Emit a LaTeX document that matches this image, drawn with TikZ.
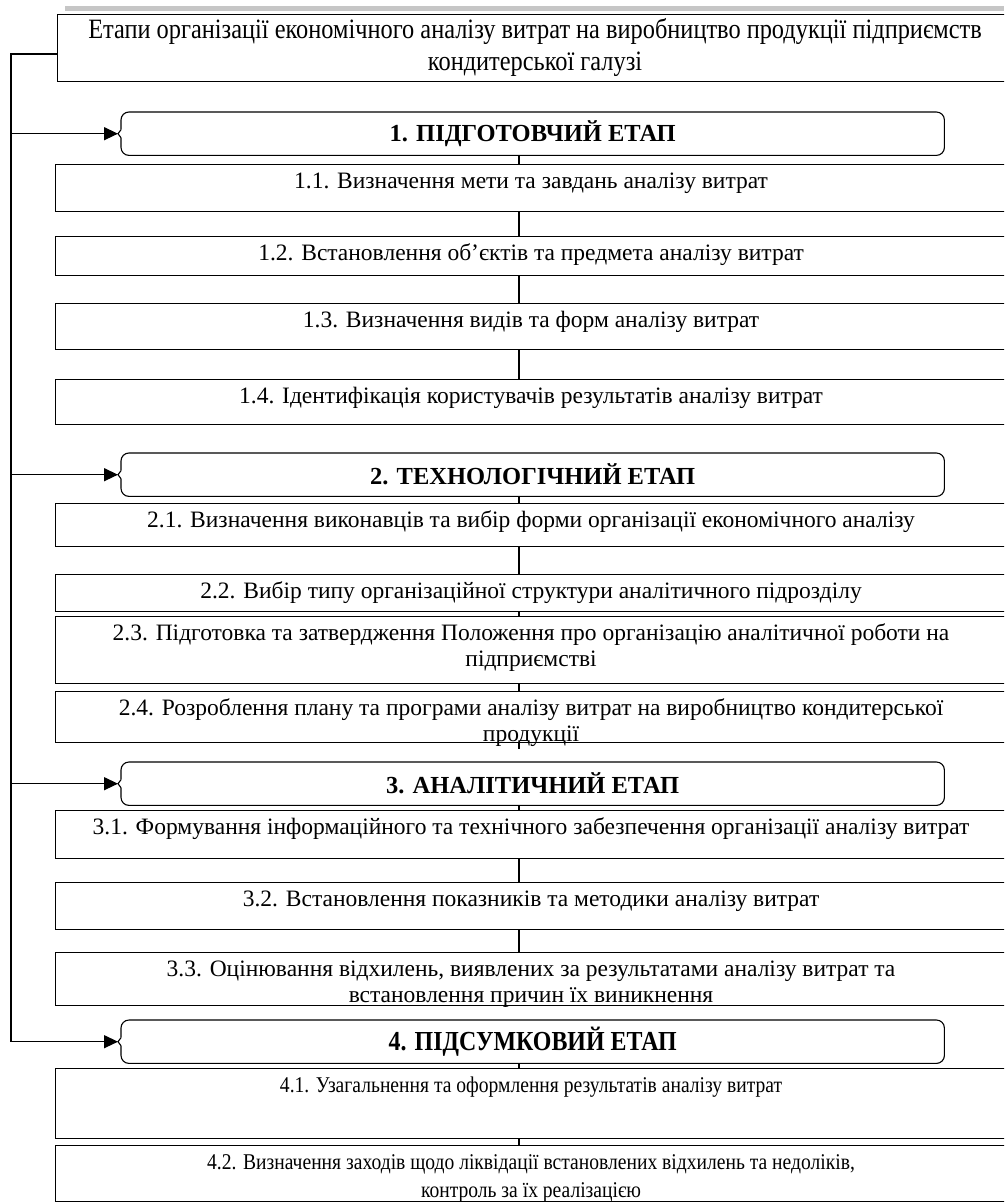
\documentclass[tikz,border=0pt]{standalone}
\usepackage{fontspec}
\setmainfont{Liberation Serif}
\newfontfamily\tallfont[FakeStretch=0.87]{Liberation Serif}
\usetikzlibrary{arrows.meta, positioning, calc}

% text of a step box, top aligned
\newcommand\boxtxt[2]{\parbox[c][#1][t]{951pt}{\centering\rule{0pt}{24pt}#2}}
% outline of a stage box: brace on the left, rounded bracket on the right
\newcommand\braceframe[1]{%
  \draw[frame, rounded corners=8pt] ([yshift=4pt]#1.west) -- (#1.north west) -- (#1.north east) -- (#1.south east) -- (#1.south west) -- ([yshift=-4pt]#1.west);
  \draw[frame] ([yshift=4pt]#1.west) -- ([xshift=-3pt]#1.west) -- ([yshift=-4pt]#1.west);}

\begin{document}
\begin{tikzpicture}[
    x=1pt, y=-1pt,
    frame/.style={line width=1.1pt},
    item/.style={draw, frame, fill=white, inner sep=0pt, anchor=north west, font=\fontsize{23.5pt}{26pt}\selectfont},
    stage/.style={inner sep=0pt, anchor=north west, minimum width=823pt, minimum height=43pt, font=\fontsize{24.5pt}{26pt}\selectfont\bfseries},
    link/.style={line width=1.1pt},
    bus/.style={line width=1.4pt},
    arrow/.style={bus, -{Triangle[length=14pt, width=13pt]}}
]
    \useasboundingbox (0,0) rectangle (1004,1204);
    \clip (0,0) rectangle (1004,1204);
    \fill[gray!45] (65,6) rectangle (1004,11);

    % title
    \node[item, font=\fontsize{28pt}{32pt}\tallfont] (title) at (57,14)
        {\parbox[c][67pt][t]{955pt}{\centering\rule{0pt}{24pt}Етапи організації економічного аналізу витрат на виробництво продукції підприємств\\кондитерської галузі}};

    % stages
    \node[stage] (s1) at (121,112) {1. ПІДГОТОВЧИЙ ЕТАП};
    \node[stage] (s2) at (121,453) {2. ТЕХНОЛОГІЧНИЙ ЕТАП};
    \node[stage] (s3) at (121,762) {3. АНАЛІТИЧНИЙ ЕТАП};
    \node[stage, font=\fontsize{27.5pt}{30pt}\tallfont\bfseries] (s4) at (121,1020) {4. ПІДСУМКОВИЙ ЕТАП};
    \foreach \s in {s1,s2,s3,s4} {\braceframe{\s}}

    % steps
    \node[item] (b11) at (55,164) {\boxtxt{47pt}{1.1. Визначення мети та завдань аналізу витрат}};
    \node[item] (b12) at (55,236) {\boxtxt{39pt}{1.2. Встановлення об’єктів та предмета аналізу витрат}};
    \node[item] (b13) at (55,303) {\boxtxt{46pt}{1.3. Визначення видів та форм аналізу витрат}};
    \node[item] (b14) at (55,379) {\boxtxt{45pt}{1.4. Ідентифікація користувачів результатів аналізу витрат}};

    \node[item] (b21) at (55,503) {\boxtxt{43pt}{2.1. Визначення виконавців та вибір форми організації економічного аналізу}};
    \node[item] (b22) at (55,574) {\boxtxt{37pt}{2.2. Вибір типу організаційної структури аналітичного підрозділу}};
    \node[item] (b23) at (55,616) {\boxtxt{67pt}{2.3. Підготовка та затвердження Положення про організацію аналітичної роботи на\\підприємстві}};
    \node[item] (b24) at (55,691) {\boxtxt{51pt}{2.4. Розроблення плану та програми аналізу витрат на виробництво кондитерської\\продукції}};

    \node[item] (b31) at (55,810) {\boxtxt{48pt}{3.1. Формування інформаційного та технічного забезпечення організації аналізу витрат}};
    \node[item] (b32) at (55,882) {\boxtxt{47pt}{3.2. Встановлення показників та методики аналізу витрат}};
    \node[item] (b33) at (55,952) {\boxtxt{53pt}{3.3. Оцінювання відхилень, виявлених за результатами аналізу витрат та\\встановлення причин їх виникнення}};

    \node[item, font=\fontsize{22.5pt}{28pt}\tallfont] (b41) at (55,1068) {\boxtxt{70pt}{4.1. Узагальнення та оформлення результатів аналізу витрат}};
    \node[item, font=\fontsize{22.5pt}{28pt}\tallfont] (b42) at (55,1145) {\boxtxt{56pt}{4.2. Визначення заходів щодо ліквідації встановлених відхилень та недоліків,\\контроль за їх реалізацією}};

    % vertical links
    \coordinate (axis) at (519,0);
    \coordinate (tick) at (519,749);
    \foreach \a/\b in {s1/b11, b11/b12, b12/b13, b13/b14, s2/b21, b21/b22, b22/b23, b23/b24,
                       s3/b31, b31/b32, b32/b33, s4/b41, b41/b42}
        \draw[link] (\a.south -| axis) -- (\b.north -| axis);
    \draw[link] (b24.south -| axis) -- (tick);

    % left bus with arrows to the stages
    \coordinate (bustop) at (11,54);
    \draw[bus] (title.west |- bustop) -- (bustop) -- (bustop |- s4.west);
    \foreach \s in {s1,s2,s3,s4}
        \draw[arrow] (bustop |- \s.west) -- ([xshift=-3pt]\s.west);
\end{tikzpicture}
\end{document}
